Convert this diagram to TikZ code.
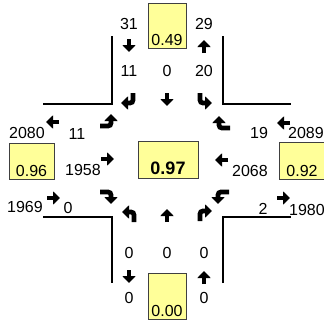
\documentclass[tikz,border=0pt]{standalone}
\usepackage{fontspec}
\setmainfont{Liberation Sans}
\usetikzlibrary{arrows.meta}
\definecolor{boxyellow}{HTML}{FFFF99}
\definecolor{boxline}{HTML}{404040}

\begin{document}
\begin{tikzpicture}[x=1pt,y=-1pt,
  num/.style={font=\fontsize{16}{18}\selectfont,inner sep=0pt},
  valbox/.style={draw=boxline,fill=boxyellow,line width=0.8pt,inner xsep=0pt,
    inner ysep=3pt,text depth=0pt,font=\fontsize{16}{18}\selectfont},
  road/.style={line width=2.5pt},
  blk/.style={line width=4.8pt,rounded corners=3pt,-{Triangle[width=13pt,length=7pt]}}]
\useasboundingbox (0,0) rectangle (324,324);

% road edges
  \draw[road] (43,104) -- (112,104) -- (112,36);
  \draw[road] (223,36) -- (223,104) -- (291,104);
  \draw[road] (43,217) -- (112,217) -- (112,283);
  \draw[road] (223,283) -- (223,217) -- (291,217);

% value boxes
  \node[valbox,minimum width=38pt,text height=39pt] (boxN) at (167,25.5) {0.49};
  \node[valbox,minimum width=45pt,text height=30pt] (boxW) at (31.5,161) {0.96};
  \node[valbox,minimum width=46pt,text height=31pt] (boxE) at (302,160.5) {0.92};
  \node[valbox,minimum width=38pt,text height=40pt] (boxS) at (167,296) {0.00};
  \node[valbox,minimum width=60pt,text height=29pt,inner ysep=4pt,
    font=\fontsize{18}{20}\selectfont\bfseries] (boxC) at (168,159.5) {0.97};

% north arm
  \node[num] (n31) at (129,24) {31};
  \node[num] (n29) at (204,24) {29};
  \node[num] (nN1) at (129,71) {11};
  \node[num] (nN2) at (167,71) {0};
  \node[num] (nN3) at (204,71) {20};
  \draw[blk] (129,39) -- (129,52);
  \draw[blk] (204,53) -- (204,40);
  \draw[blk] (133,93) |- (121,103);
  \draw[blk] (167,93) -- (167,106);
  \draw[blk] (200,93) |- (212,103);

% west arm
  \node[num] (n2080) at (27,133) {2080};
  \node[num] (nW1) at (77,134) {11};
  \node[num] (n1958) at (83,170) {1958};
  \node[num] (n1969) at (25,207) {1969};
  \node[num] (nW3) at (68,208) {0};
  \draw[blk] (59,122) -- (46,122);
  \draw[blk] (47,198) -- (60,198);
  \draw[blk] (100,126) -| (111,114);
  \draw[blk] (101,159) -- (114,159);
  \draw[blk] (100,192) -| (111,204);

% east arm
  \node[num] (nE1) at (259,133) {19};
  \node[num] (n2089) at (306,133) {2089};
  \node[num] (n2068) at (250,171) {2068};
  \node[num] (nE3) at (263,209) {2};
  \node[num] (n1980) at (307,210) {1980};
  \draw[blk] (290,123) -- (277,123);
  \draw[blk] (277,198) -- (290,198);
  \draw[blk] (230,128) -| (219,116);
  \draw[blk] (228,160) -- (215,160);
  \draw[blk] (229,192) -| (218,204);

% south arm
  \node[num] (nS1) at (129,253) {0};
  \node[num] (nS2) at (167,253) {0};
  \node[num] (nS3) at (204,253) {0};
  \node[num] (nS4) at (129,298) {0};
  \node[num] (nS5) at (204,298) {0};
  \draw[blk] (129,270) -- (129,283);
  \draw[blk] (204,284) -- (204,271);
  \draw[blk] (134,222) |- (122,212);
  \draw[blk] (167,222) -- (167,209);
  \draw[blk] (200,221) |- (212,211);

\end{tikzpicture}
\end{document}
